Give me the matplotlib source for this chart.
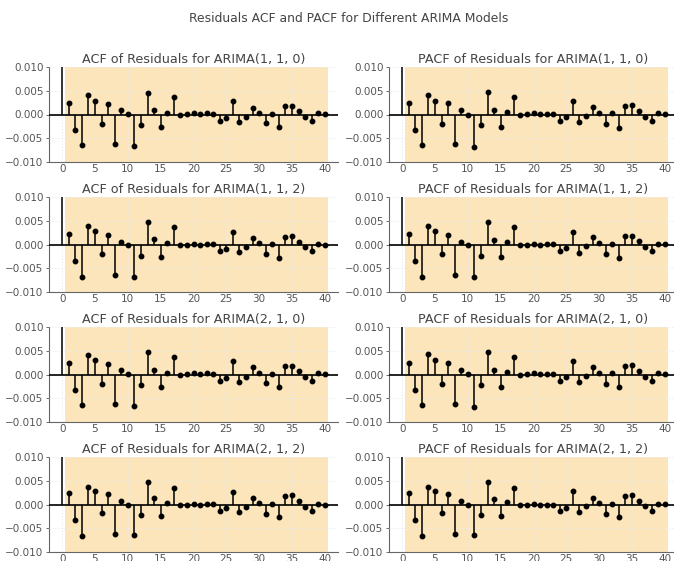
import matplotlib
matplotlib.use("Agg")
import matplotlib.pyplot as plt
import numpy as np

lags = list(range(0, 41))

acf_110 = [1.0, 0.0024, -0.0032, -0.0064, 0.0041, 0.0029, -0.0020, 0.0022, -0.0062, 0.0009, 0.0001,
           -0.0066, -0.0023, 0.0046, 0.0010, -0.0026, 0.0004, 0.0037, -0.0001, 0.0001, 0.0003,
           0.0001, 0.0003, 0.0002, -0.0013, -0.0007, 0.0028, -0.0015, -0.0005, 0.0014, 0.0004,
           -0.0019, 0.0002, -0.0026, 0.0018, 0.0019, 0.0007, -0.0005, -0.0013, 0.0003, 0.0001]
pacf_110 = [1.0, 0.0024, -0.0032, -0.0065, 0.0042, 0.0028, -0.0020, 0.0024, -0.0063, 0.0009, 0.0000,
            -0.0068, -0.0023, 0.0047, 0.0009, -0.0027, 0.0005, 0.0037, -0.0002, 0.0001, 0.0003,
            0.0001, 0.0002, 0.0001, -0.0013, -0.0006, 0.0028, -0.0016, -0.0004, 0.0015, 0.0004,
            -0.0020, 0.0003, -0.0028, 0.0018, 0.0020, 0.0007, -0.0005, -0.0013, 0.0003, 0.0002]
acf_112 = [1.0, 0.0023, -0.0034, -0.0068, 0.0039, 0.0028, -0.0021, 0.0021, -0.0065, 0.0006, 0.0000,
           -0.0068, -0.0024, 0.0047, 0.0011, -0.0027, 0.0004, 0.0038, -0.0001, 0.0000, 0.0002,
           0.0000, 0.0001, 0.0001, -0.0014, -0.0009, 0.0027, -0.0016, -0.0006, 0.0013, 0.0003,
           -0.0021, 0.0001, -0.0028, 0.0016, 0.0019, 0.0006, -0.0006, -0.0014, 0.0002, 0.0000]
pacf_112 = [1.0, 0.0023, -0.0034, -0.0068, 0.0040, 0.0028, -0.0021, 0.0021, -0.0065, 0.0006, 0.0000,
            -0.0069, -0.0024, 0.0048, 0.0010, -0.0026, 0.0005, 0.0038, -0.0001, 0.0000, 0.0002,
            0.0000, 0.0001, 0.0001, -0.0014, -0.0007, 0.0027, -0.0017, -0.0004, 0.0015, 0.0003,
            -0.0021, 0.0001, -0.0028, 0.0017, 0.0019, 0.0007, -0.0005, -0.0014, 0.0001, 0.0001]
acf_210 = [1.0, 0.0024, -0.0032, -0.0064, 0.0042, 0.0030, -0.0020, 0.0022, -0.0062, 0.0009, 0.0002,
           -0.0067, -0.0023, 0.0047, 0.0010, -0.0027, 0.0004, 0.0038, -0.0001, 0.0001, 0.0003,
           0.0001, 0.0003, 0.0002, -0.0013, -0.0007, 0.0028, -0.0015, -0.0005, 0.0015, 0.0004,
           -0.0019, 0.0002, -0.0026, 0.0018, 0.0019, 0.0007, -0.0005, -0.0013, 0.0003, 0.0001]
pacf_210 = [1.0, 0.0024, -0.0032, -0.0064, 0.0043, 0.0030, -0.0020, 0.0024, -0.0062, 0.0009, 0.0002,
            -0.0068, -0.0023, 0.0048, 0.0009, -0.0027, 0.0005, 0.0038, -0.0002, 0.0001, 0.0003,
            0.0001, 0.0002, 0.0001, -0.0013, -0.0006, 0.0029, -0.0016, -0.0004, 0.0016, 0.0004,
            -0.0020, 0.0003, -0.0027, 0.0018, 0.0020, 0.0007, -0.0005, -0.0013, 0.0003, 0.0002]
acf_212 = [1.0, 0.0024, -0.0033, -0.0067, 0.0038, 0.0029, -0.0018, 0.0022, -0.0063, 0.0007, 0.0000,
           -0.0064, -0.0022, 0.0048, 0.0013, -0.0024, 0.0004, 0.0036, -0.0001, 0.0000, 0.0001,
           -0.0001, 0.0001, 0.0001, -0.0014, -0.0008, 0.0027, -0.0015, -0.0005, 0.0014, 0.0004,
           -0.0020, 0.0001, -0.0026, 0.0017, 0.0020, 0.0008, -0.0005, -0.0014, 0.0001, 0.0000]
pacf_212 = [1.0, 0.0024, -0.0033, -0.0067, 0.0038, 0.0029, -0.0018, 0.0022, -0.0063, 0.0007, 0.0000,
            -0.0065, -0.0022, 0.0048, 0.0012, -0.0024, 0.0005, 0.0036, -0.0001, 0.0000, 0.0001,
            -0.0001, 0.0000, 0.0000, -0.0013, -0.0007, 0.0028, -0.0016, -0.0004, 0.0014, 0.0003,
            -0.0020, 0.0001, -0.0027, 0.0018, 0.0020, 0.0008, -0.0004, -0.0014, 0.0001, 0.0001]

models = ["(1, 1, 0)", "(1, 1, 2)", "(2, 1, 0)", "(2, 1, 2)"]
acf_sets = [acf_110, acf_112, acf_210, acf_212]
pacf_sets = [pacf_110, pacf_112, pacf_210, pacf_212]

W, H = 674, 561
fig = plt.figure(figsize=(W / 100, H / 100), dpi=100)
fig.text(349 / W, 1 - 18 / H, "Residuals ACF and PACF for Different ARIMA Models",
         ha="center", va="center", fontsize=8.9, color="#444444")

text_c = "#555555"
fill_c = "#FCE5BB"

def draw(ax, vals, title):
    x = np.array(lags)
    y = np.array(vals)
    ax.set_xlim(-2, 42)
    ax.set_ylim(-0.010, 0.010)
    ax.axvspan(0.5, 40.5, color=fill_c, lw=0, zorder=0)
    ax.grid(True, color="#ebebeb", ls=":", lw=0.8, zorder=1)
    ax.set_axisbelow(False)
    ax.axhline(0, color="black", lw=1.2, zorder=3)
    ax.vlines(x, 0, y, color="black", lw=1.1, zorder=3)
    ax.plot(x, y, "o", color="black", ms=3.2, zorder=4, clip_on=True)
    ax.set_xticks(range(0, 41, 5))
    ax.set_yticks([-0.010, -0.005, 0.0, 0.005, 0.010])
    ax.set_yticklabels(["\u22120.010", "\u22120.005", "0.000", "0.005", "0.010"])
    ax.tick_params(labelsize=7.5, colors=text_c, width=0.6)
    ax.tick_params(axis="x", length=0, pad=2)
    ax.tick_params(axis="y", length=2, pad=2)
    for s in ["top", "right"]:
        ax.spines[s].set_visible(False)
    for s in ["left", "bottom"]:
        ax.spines[s].set_color("#666666")
        ax.spines[s].set_linewidth(0.8)
    ax.set_title(title, fontsize=9.2, color="#444444", pad=3)

ax_h = 94.4
for i in range(4):
    top = 67.3 + 130 * i
    bottom_frac = 1 - (top + ax_h) / H
    axL = fig.add_axes([49 / W, bottom_frac, 289 / W, ax_h / H])
    draw(axL, acf_sets[i], "ACF of Residuals for ARIMA" + models[i])
    axR = fig.add_axes([389 / W, bottom_frac, 289 / W, ax_h / H])
    draw(axR, pacf_sets[i], "PACF of Residuals for ARIMA" + models[i])

fig.savefig("out.png", dpi=100)
